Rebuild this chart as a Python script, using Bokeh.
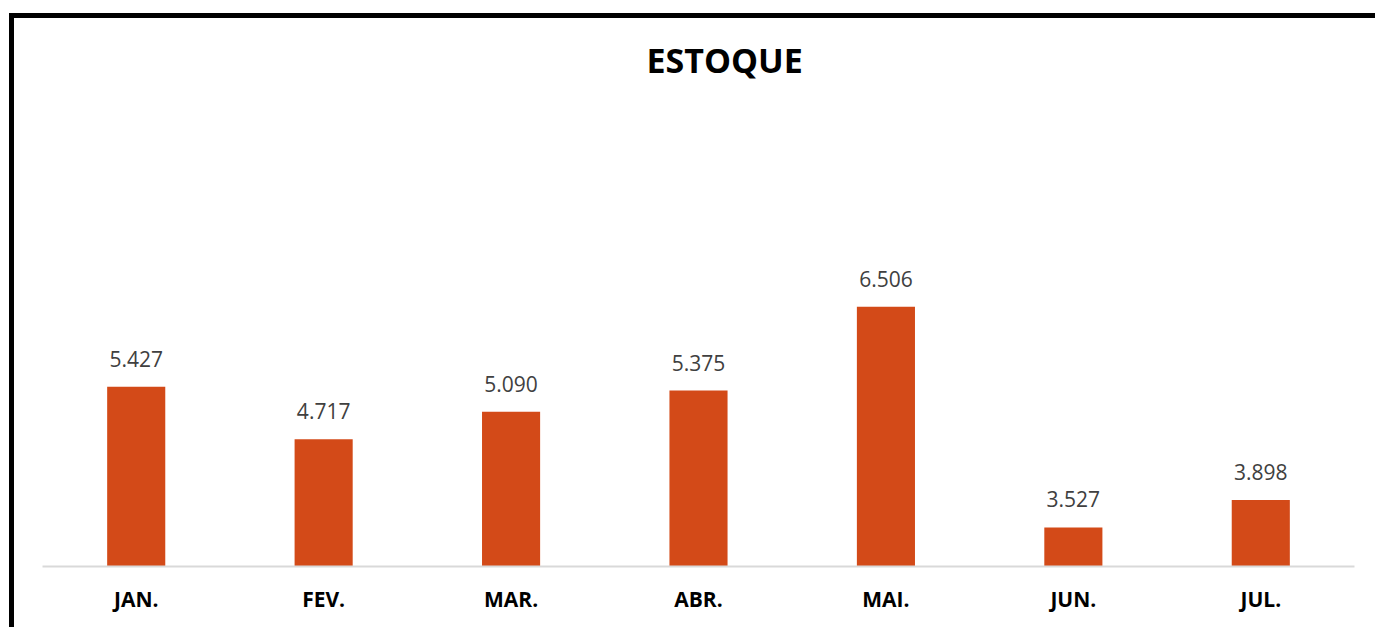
from bokeh.plotting import figure
from bokeh.models import ColumnDataSource, Range1d
from bokeh.embed import file_html
from bokeh.resources import INLINE
from bokeh.core.properties import value

months = ["JAN.", "FEV.", "MAR.", "ABR.", "MAI.", "JUN.", "JUL."]
stock = [5427, 4717, 5090, 5375, 6506, 3527, 3898]
labels = [f"{v:,}".replace(",", ".") for v in stock]

src = ColumnDataSource(dict(m=months, v=stock, lab=labels))

p = figure(x_range=months, y_range=Range1d(3000, 9491),
           width=1366, height=614, output_backend="svg", toolbar_location=None,
           min_border_left=28, min_border_right=26, min_border_top=67, min_border_bottom=66,
           title="ESTOQUE")
p.margin = (13, 0, 0, 9)
p.styles = {"border-left": "5px solid black", "border-top": "5px solid black"}
p.outline_line_color = None
p.background_fill_color = "white"
p.border_fill_color = "white"

p.title.align = "left"
p.title.offset = 604
p.title.text_font = "Open Sans"
p.title.text_font_style = "bold"
p.title.text_font_size = "34px"
p.title.text_color = "black"
p.title.standoff = 6

p.vbar(x="m", top="v", bottom=3000, width=0.31, source=src,
       fill_color="#D34A18", line_color=None)
p.text(x="m", y="v", text="lab", source=src, text_align="center",
       text_baseline="alphabetic", y_offset=-28, text_font=value("Open Sans"),
       text_font_size="21px", text_color="#404040")

p.yaxis.visible = False
p.xgrid.grid_line_color = None
p.ygrid.grid_line_color = None
p.xaxis.axis_line_color = "#D9D9D9"
p.xaxis.axis_line_width = 2
p.xaxis.major_tick_line_color = None
p.xaxis.minor_tick_line_color = None
p.xaxis.major_label_text_font = "Open Sans"
p.xaxis.major_label_text_font_style = "bold"
p.xaxis.major_label_text_font_size = "21px"
p.xaxis.major_label_text_color = "black"
p.xaxis.major_label_standoff = 12
p.x_range.range_padding = 0

open("out.html", "w").write(file_html(p, INLINE))
